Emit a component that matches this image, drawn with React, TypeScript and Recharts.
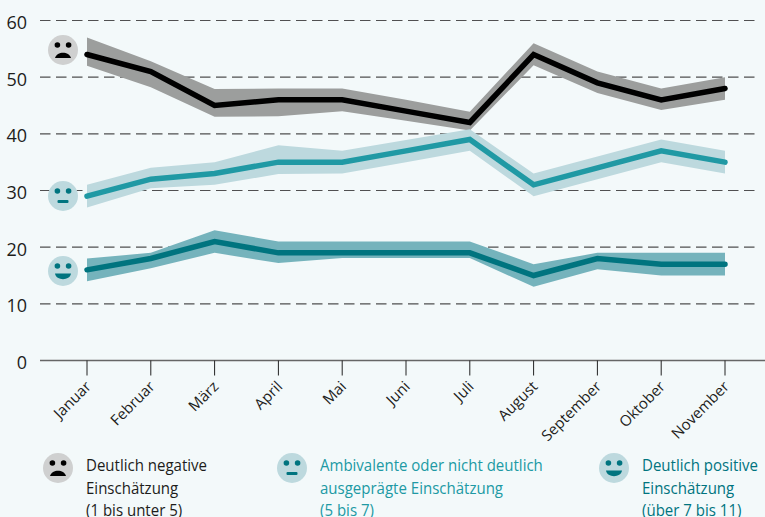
import {
  Area,
  CartesianGrid,
  ComposedChart,
  Line,
  XAxis,
  YAxis,
} from 'recharts';

const BG = '#f3f9fa';
const FONT = '"Open Sans", sans-serif';

const months = ['Januar', 'Februar', 'März', 'April', 'Mai', 'Juni', 'Juli', 'August', 'September', 'Oktober', 'November'];
const yTicks = [0, 10, 20, 30, 40, 50, 60];

const negative = [54, 51, 45, 46, 46, 44, 42, 54, 49, 46, 48];
const negativeHigh = [57, 52.8, 47.9, 48, 48, 46, 43.9, 56, 51, 48, 50];
const negativeLow = [52, 48.2, 43, 43.1, 44, 42.3, 40.6, 52.1, 47.2, 44.2, 46];

const neutral = [29, 32, 33, 35, 35, 37, 39, 31, 34, 37, 35];
const neutralHigh = [31, 34, 35, 38, 37, 38.9, 40.8, 33, 36, 39, 37];
const neutralLow = [27, 30.4, 31, 32.9, 33, 35, 37, 29, 32, 35, 33];

const positive = [16, 18, 21, 19, 19, 19, 19, 15, 18, 17, 17];
const positiveHigh = [18, 19, 23, 21, 21, 21, 21, 17, 19, 19, 19];
const positiveLow = [14, 16.3, 19, 17.2, 18.1, 18.1, 18.1, 13, 16.1, 15, 15];

const rows = months.map((month, i) => ({
  month,
  negative: negative[i],
  negativeBand: [negativeLow[i], negativeHigh[i]],
  neutral: neutral[i],
  neutralBand: [neutralLow[i], neutralHigh[i]],
  positive: positive[i],
  positiveBand: [positiveLow[i], positiveHigh[i]],
}));

type Mood = 'sad' | 'flat' | 'happy';

function Face({ mood, x, y }: { mood: Mood; x: number; y: number }) {
  const sad = mood === 'sad';
  const ink = sad ? '#000' : '#00747f';
  return (
    <svg
      width={30}
      height={30}
      viewBox="-15 -15 30 30"
      style={{ position: 'absolute', left: x - 15, top: y - 15 }}
    >
      <circle r={15} fill={sad ? '#cfd0d0' : '#bdd9de'} />
      <circle cx={-5.6} cy={-5} r={2.8} fill={ink} />
      <circle cx={5.6} cy={-5} r={2.8} fill={ink} />
      {mood === 'sad' && <path d="M-8 8 C-6 1 6 1 8 8 Z" fill={ink} />}
      {mood === 'flat' && <rect x={-5.5} y={4} width={11} height={3} rx={1} fill={ink} />}
      {mood === 'happy' && <path d="M-8 2.5 L8 2.5 C7 10 -7 10 -8 2.5 Z" fill={ink} />}
    </svg>
  );
}

function MonthTick({ x, y, payload }: any) {
  return (
    <text
      transform={`translate(${x + 5},${y + 10}) rotate(-45)`}
      textAnchor="end"
      fontFamily={FONT}
      fontSize={15}
      fill="#1d1d1b"
    >
      {payload.value}
    </text>
  );
}

const legendItems: { mood: Mood; lines: string[]; color: string; faceX: number; textX: number }[] = [
  { mood: 'sad', lines: ['Deutlich negative', 'Einschätzung', '(1 bis unter 5)'], color: '#1d1d1b', faceX: 58, textX: 86 },
  { mood: 'flat', lines: ['Ambivalente oder nicht deutlich', 'ausgeprägte Einschätzung', '(5 bis 7)'], color: '#2099a4', faceX: 292, textX: 320 },
  { mood: 'happy', lines: ['Deutlich positive', 'Einschätzung', '(über 7 bis 11)'], color: '#00747f', faceX: 614, textX: 642 },
];

const bands = [
  { key: 'negativeBand', fill: '#9c9e9d' },
  { key: 'neutralBand', fill: '#bdd9de' },
  { key: 'positiveBand', fill: '#75b3bc' },
];

const lines = [
  { key: 'negative', stroke: '#000000' },
  { key: 'neutral', stroke: '#2099a4' },
  { key: 'positive', stroke: '#00747f' },
];

export default function App() {
  return (
    <div
      style={{
        position: 'fixed',
        left: 0,
        top: 0,
        width: 765,
        height: 517,
        overflow: 'hidden',
        background: BG,
        fontFamily: FONT,
      }}
    >
      <ComposedChart
        width={765}
        height={517}
        data={rows}
        margin={{ top: 20.5, right: 0, bottom: 0, left: 0 }}
      >
        <XAxis
          dataKey="month"
          scale="point"
          padding={{ left: 47, right: 40 }}
          height={156.5}
          interval={0}
          tick={<MonthTick />}
          tickSize={15}
          tickLine={{ stroke: '#222', strokeWidth: 1 }}
          axisLine={{ stroke: '#666', strokeWidth: 1.5 }}
        />
        <YAxis
          width={40}
          domain={[0, 60]}
          ticks={yTicks}
          axisLine={false}
          tickLine={false}
          tickMargin={7}
          tick={{ fill: '#1d1d1b', fontSize: 18, fontFamily: FONT, dy: 2 }}
        />
        {bands.map((b) => (
          <Area
            key={b.key}
            dataKey={b.key}
            type="linear"
            stroke="none"
            fill={b.fill}
            fillOpacity={1}
            dot={false}
            activeDot={false}
            isAnimationActive={false}
          />
        ))}
        <CartesianGrid
          vertical={false}
          x={40}
          width={717}
          horizontalValues={[10, 20, 30, 40, 50, 60]}
          stroke="#333"
          strokeOpacity={0.85}
          strokeWidth={1.2}
          strokeDasharray="10.5 5.5"
        />
        {lines.map((l) => (
          <Line
            key={l.key}
            dataKey={l.key}
            type="linear"
            stroke={l.stroke}
            strokeWidth={5.5}
            strokeLinecap="round"
            strokeLinejoin="miter"
            dot={false}
            activeDot={false}
            isAnimationActive={false}
          />
        ))}
      </ComposedChart>

      <Face mood="sad" x={63} y={50} />
      <Face mood="flat" x={63} y={196} />
      <Face mood="happy" x={63} y={271} />

      {legendItems.map((item) => (
        <div key={item.mood}>
          <Face mood={item.mood} x={item.faceX} y={468} />
          <div
            style={{
              position: 'absolute',
              left: item.textX,
              top: 454,
              color: item.color,
              fontSize: 16.5,
              lineHeight: '22.5px',
              whiteSpace: 'nowrap',
              transform: 'scaleX(0.91)',
              transformOrigin: 'left top',
            }}
          >
            {item.lines.map((t) => (
              <div key={t}>{t}</div>
            ))}
          </div>
        </div>
      ))}
    </div>
  );
}
